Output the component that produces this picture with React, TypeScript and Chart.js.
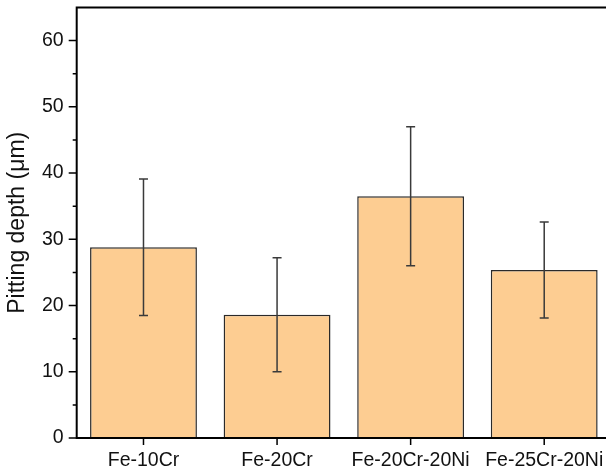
import React, { useEffect, useRef } from "react";
import { Chart, registerables } from "chart.js";

Chart.register(...registerables);

const categories = ["Fe-10Cr", "Fe-20Cr", "Fe-20Cr-20Ni", "Fe-25Cr-20Ni"];
const depthValues = [28.8, 18.6, 36.5, 25.35];
const depthErrors = [10.3, 8.6, 10.5, 7.25];
const yTickValues = [0, 10, 20, 30, 40, 50, 60];
const yMinorValues = [5, 15, 25, 35, 45, 55];

const FONT = "'Liberation Sans', Arial, sans-serif";

const framePlugin = {
  id: "frameAndErrors",
  afterDatasetsDraw(chart: any) {
    const { ctx, scales } = chart;
    const x = scales.x;
    const y = scales.y;
    ctx.save();
    ctx.strokeStyle = "#3a3a3a";
    ctx.lineWidth = 1.5;
    depthValues.forEach((v, i) => {
      const cx = x.getPixelForValue(i);
      const yt = y.getPixelForValue(v + depthErrors[i]);
      const yb = y.getPixelForValue(v - depthErrors[i]);
      const cap = 4.5;
      ctx.beginPath();
      ctx.moveTo(cx, yt);
      ctx.lineTo(cx, yb);
      ctx.moveTo(cx - cap, yt);
      ctx.lineTo(cx + cap, yt);
      ctx.moveTo(cx - cap, yb);
      ctx.lineTo(cx + cap, yb);
      ctx.stroke();
    });
    ctx.restore();
  },
  afterDraw(chart: any) {
    const { ctx, chartArea, scales } = chart;
    const { left, right, top, bottom } = chartArea;
    const x = scales.x;
    const y = scales.y;
    ctx.save();
    ctx.strokeStyle = "#000";
    ctx.lineWidth = 2;
    ctx.beginPath();
    ctx.moveTo(right + 5, top);
    ctx.lineTo(left, top);
    ctx.lineTo(left, bottom);
    ctx.lineTo(right + 5, bottom);
    ctx.stroke();
    ctx.lineWidth = 1.5;
    ctx.beginPath();
    yTickValues.forEach((v) => {
      const py = y.getPixelForValue(v);
      ctx.moveTo(left, py);
      ctx.lineTo(left - 8, py);
    });
    yMinorValues.forEach((v) => {
      const py = y.getPixelForValue(v);
      ctx.moveTo(left, py);
      ctx.lineTo(left - 4, py);
    });
    categories.forEach((_, i) => {
      const px = x.getPixelForValue(i);
      ctx.moveTo(px, bottom);
      ctx.lineTo(px, bottom + 7);
    });
    ctx.stroke();
    ctx.restore();
  },
};

export default function App() {
  const canvasRef = useRef<HTMLCanvasElement | null>(null);

  useEffect(() => {
    const canvas = canvasRef.current;
    if (!canvas) return;
    const chart = new Chart(canvas, {
      type: "bar",
      data: {
        labels: categories,
        datasets: [
          {
            data: depthValues,
            backgroundColor: "rgb(253,205,146)",
            borderColor: "#2a2a2a",
            borderWidth: 1.5,
            barPercentage: 0.8,
            categoryPercentage: 1,
          },
        ],
      },
      options: {
        animation: false,
        responsive: true,
        maintainAspectRatio: false,
        layout: { padding: { top: 7.5, left: 0, right: 0, bottom: 0 } },
        plugins: {
          legend: { display: false },
          tooltip: { enabled: false },
        },
        scales: {
          x: {
            grid: { display: false, drawTicks: false },
            border: { display: false },
            ticks: {
              color: "#111",
              padding: 11,
              maxRotation: 0,
              autoSkip: false,
              font: { family: FONT, size: 19.5 },
            },
            afterFit(scale: any) {
              scale.height = 35;
              scale.paddingLeft = 0;
              scale.paddingRight = 0;
            },
          },
          y: {
            min: 0,
            max: 65,
            grid: { display: false, drawTicks: false },
            border: { display: false },
            afterBuildTicks(scale: any) {
              scale.ticks = yTickValues.map((v) => ({ value: v }));
            },
            ticks: {
              color: "#111",
              padding: 13,
              font: { family: FONT, size: 19.5 },
            },
            title: {
              display: true,
              text: "Pitting depth (μm)",
              color: "#111",
              padding: { top: 4, bottom: 0 },
              font: { family: FONT, size: 23 },
            },
            afterFit(scale: any) {
              scale.width = 76.7;
              scale.paddingTop = 0;
              scale.paddingBottom = 0;
            },
          },
        },
      },
      plugins: [framePlugin],
    });
    return () => chart.destroy();
  }, []);

  return (
    <div
      style={{
        position: "fixed",
        left: 0,
        top: 0,
        width: "611px",
        height: "473px",
        background: "#fff",
      }}
    >
      <canvas ref={canvasRef} />
    </div>
  );
}
